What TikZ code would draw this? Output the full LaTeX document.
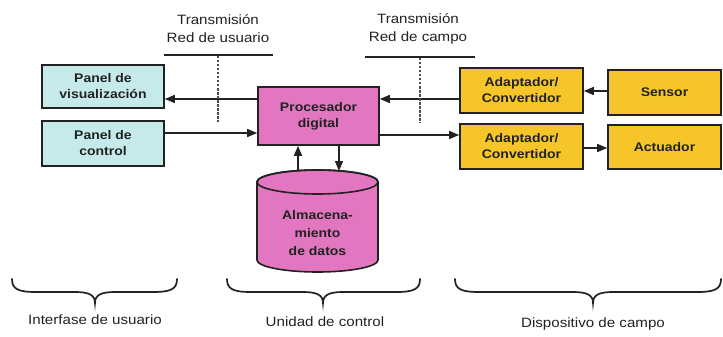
\documentclass[tikz,border=0pt]{standalone}
\usepackage{fontspec}
\setmainfont{Liberation Sans}[FakeStretch=1.12]
\usetikzlibrary{arrows.meta}
\definecolor{cyanbox}{HTML}{C6EAEA}
\definecolor{pinkbox}{HTML}{E276C0}
\definecolor{yellowbox}{HTML}{F6C52A}
\definecolor{ink}{HTML}{222222}
\newcommand\curlybrace[3]{%
  \draw[bracestyle] (#1,279) .. controls (#1,289) and (#1+6,292) .. (#1+24,292)
    -- (#2-20,292) .. controls (#2-6,292) and (#2,295) .. (#2,303)
    .. controls (#2,295) and (#2+6,292) .. (#2+20,292)
    -- (#3-24,292) .. controls (#3-6,292) and (#3,289) .. (#3,279);}
\begin{document}
\begin{tikzpicture}[x=1pt,y=-1pt,
  box/.style={draw=ink, line width=1.6pt, align=center, inner sep=0pt,
    font=\fontsize{12.5}{16}\selectfont\bfseries, text=ink},
  lbl/.style={align=center, inner sep=0pt, text=ink,
    font=\fontsize{13.5}{18}\selectfont},
  arr/.style={draw=ink, line width=1.4pt, -{Triangle[length=10pt,width=8pt]}},
  rule/.style={draw=ink, line width=1.3pt},
  dashline/.style={draw=ink!80, line width=1.3pt, dash pattern=on 2.5pt off 1.5pt},
  bracestyle/.style={draw=ink, line width=1.7pt, line cap=round},
]
\useasboundingbox[fill=white] (0,0) rectangle (723,337);

% user interface
\node[box, fill=cyanbox, minimum width=122pt, minimum height=43pt] (vis) at (103,86.5) {Panel de\\visualización};
\node[box, fill=cyanbox, minimum width=122pt, minimum height=45pt] (ctrl) at (103,143.5) {Panel de\\control};

% control unit
\node[box, fill=pinkbox, minimum width=121pt, minimum height=58pt] (proc) at (318.5,116) {Procesador\\digital};
\draw[line width=1.6pt, draw=ink, fill=pinkbox]
  (257,182) -- (257,260) arc[start angle=180, end angle=360, x radius=60.5pt, y radius=12pt]
  -- (378,182) arc[start angle=0, end angle=180, x radius=60.5pt, y radius=12pt] -- cycle;
\draw[line width=1.6pt, draw=ink] (317.5,182) ellipse[x radius=60.5pt, y radius=12pt];
\node[lbl, font=\fontsize{12.5}{18}\selectfont\bfseries] (db) at (317.5,233) {Almacena-\\miento\\de datos};
\coordinate (dbin) at (298,171);
\coordinate (dbout) at (339,171);

% field devices
\node[box, fill=yellowbox, minimum width=123pt, minimum height=45pt] (ad1) at (521.5,90.5) {Adaptador/\\Convertidor};
\node[box, fill=yellowbox, minimum width=123pt, minimum height=45pt] (ad2) at (521.5,146.5) {Adaptador/\\Convertidor};
\node[box, fill=yellowbox, minimum width=113pt, minimum height=45pt] (sen) at (664.5,92.5) {Sensor};
\node[box, fill=yellowbox, minimum width=113pt, minimum height=44pt] (act) at (664.5,147) {Actuador};

% connectors
\draw[arr] (proc.west |- 0,99) -- (vis.east |- 0,99);
\draw[arr] (ctrl.east |- 0,133) -- (proc.west |- 0,133);
\draw[arr] (ad1.west |- 0,99) -- (proc.east |- 0,99);
\draw[arr] (proc.east |- 0,135) -- (ad2.west |- 0,135);
\draw[arr] (sen.west |- 0,91) -- (ad1.east |- 0,91);
\draw[arr] (ad2.east |- 0,148) -- (act.west |- 0,148);
\draw[arr] (dbin) -- (proc.south -| dbin);
\draw[arr] (proc.south -| dbout) -- (dbout);

% transmission markers
\node[lbl] (tu) at (218,29) {Transmisión\\Red de usuario};
\draw[rule] (164,55) -- (273,55);
\draw[dashline] (218,56) -- (218,122);
\node[lbl] (tc) at (418,29) {Transmisión\\Red de campo};
\draw[rule] (365,57) -- (475,57);
\draw[dashline] (420,58) -- (420,123);

% braces and group labels
\curlybrace{12}{95}{177}
\curlybrace{227}{323}{420}
\curlybrace{455}{593}{721}
\node[lbl] (g1) at (95,320) {Interfase de usuario};
\node[lbl] (g2) at (325,322) {Unidad de control};
\node[lbl] (g3) at (593,324) {Dispositivo de campo};
\end{tikzpicture}
\end{document}
